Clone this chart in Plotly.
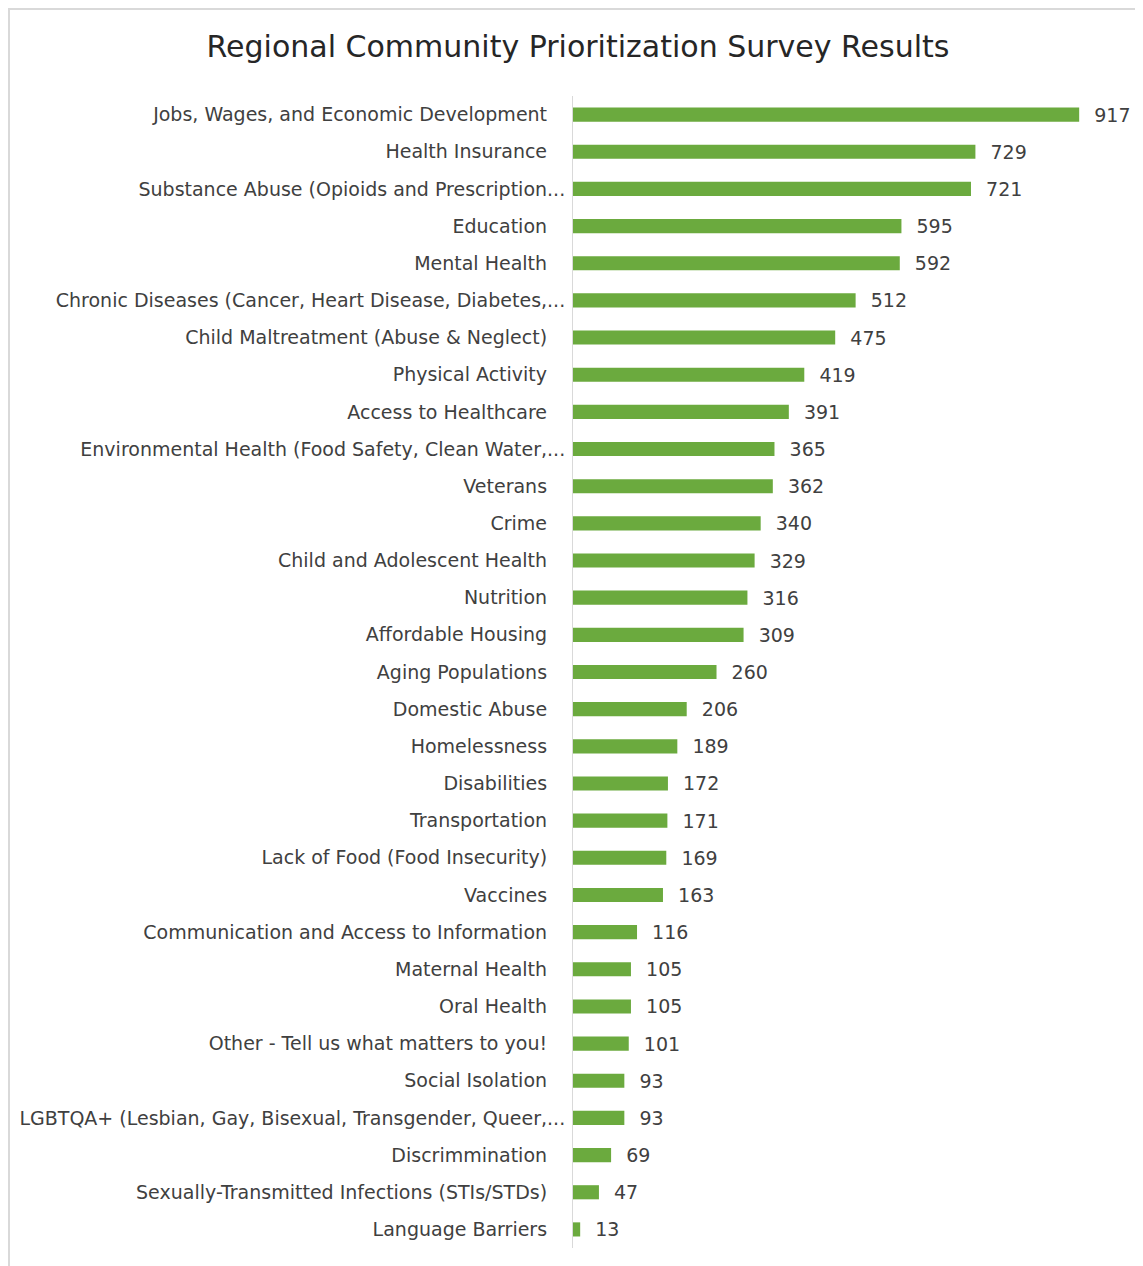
import plotly.graph_objects as go

categories = [
    "Jobs, Wages, and Economic Development",
    "Health Insurance",
    "Substance Abuse (Opioids and Prescription...",
    "Education",
    "Mental Health",
    "Chronic Diseases (Cancer, Heart Disease, Diabetes,...",
    "Child Maltreatment (Abuse & Neglect)",
    "Physical Activity",
    "Access to Healthcare",
    "Environmental Health (Food Safety, Clean Water,...",
    "Veterans",
    "Crime",
    "Child and Adolescent Health",
    "Nutrition",
    "Affordable Housing",
    "Aging Populations",
    "Domestic Abuse",
    "Homelessness",
    "Disabilities",
    "Transportation",
    "Lack of Food (Food Insecurity)",
    "Vaccines",
    "Communication and Access to Information",
    "Maternal Health",
    "Oral Health",
    "Other - Tell us what matters to you!",
    "Social Isolation",
    "LGBTQA+ (Lesbian, Gay, Bisexual, Transgender, Queer,...",
    "Discrimmination",
    "Sexually-Transmitted Infections (STIs/STDs)",
    "Language Barriers",
]
counts = [917, 729, 721, 595, 592, 512, 475, 419, 391, 365, 362, 340, 329, 316,
          309, 260, 206, 189, 172, 171, 169, 163, 116, 105, 105, 101, 93, 93,
          69, 47, 13]

# page has an 8px body margin; figure is sized to fit the window
W, H = 1135, 1258
ml, mr, mt, mb = 565, 18, 88, 18
pw = W - ml - mr
ph = H - mt - mb
FONT = "DejaVu Sans"

# truncated labels sit right against the axis; others have extra padding
tick_text = [c if c.endswith("...") else c + "\u00a0\u00a0\u00a0" for c in categories]

fig = go.Figure(go.Bar(
    x=counts, y=categories, orientation="h",
    marker=dict(color="#6BAA3E", line=dict(width=0)),
    text=counts, texttemplate="  %{x}", textposition="outside",
    constraintext="none",
    textfont=dict(family=FONT, size=19, color="#404040"),
    cliponaxis=False,
))

fig.update_layout(
    width=W, height=H,
    margin=dict(l=ml, r=mr, t=mt, b=mb, autoexpand=False),
    paper_bgcolor="white", plot_bgcolor="white",
    bargap=0.62,
    showlegend=False,
    title=dict(text="Regional Community Prioritization Survey Results",
               x=570 / W, xanchor="center",
               y=1 - 38 / H, yanchor="middle",
               font=dict(family=FONT, size=30, color="#262626")),
    xaxis=dict(range=[0, pw / 0.552], visible=False, showgrid=False,
               automargin=False),
    yaxis=dict(autorange="reversed", showgrid=False, showline=True,
               linecolor="#D9D9D9", linewidth=1, ticks="",
               tickmode="array", tickvals=categories, ticktext=tick_text,
               ticklabelstandoff=3, automargin=False,
               tickfont=dict(family=FONT, size=19, color="#404040")),
    shapes=[dict(type="rect", xref="paper", yref="paper",
                 x0=(1 - ml) / pw, x1=(W + 20 - ml) / pw,
                 y0=(H - mb - (H + 20)) / ph, y1=(H - mb - 1) / ph,
                 line=dict(color="#D9D9D9", width=2), fillcolor="rgba(0,0,0,0)",
                 layer="below")],
)

fig.write_html("out.html")
